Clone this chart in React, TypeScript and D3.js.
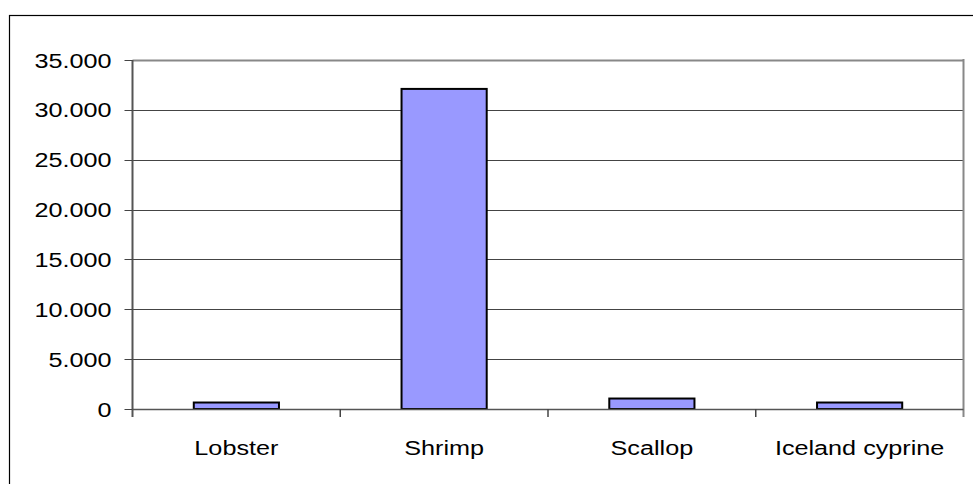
import React from "react";
import * as d3 from "d3";

const categories = ["Lobster", "Shrimp", "Scallop", "Iceland cyprine"];
const values = [650, 32100, 1050, 650];
const yTicks = [0, 5000, 10000, 15000, 20000, 25000, 30000, 35000];

const width = 973;
const height = 484;
const margin = { top: 60, right: 9.5, bottom: 75, left: 132.5 };

// labels in the original look stretched sideways a bit
const stretch = 1.2;

const locale = d3.formatLocale({
  decimal: ",",
  thousands: ".",
  grouping: [3],
  currency: ["", ""]
});
const fmt = locale.format(",d");

const App = () => {
  const x = d3
    .scaleBand<string>()
    .domain(categories)
    .range([margin.left, width - margin.right])
    .paddingInner(0.59)
    .paddingOuter(0.295);

  const y = d3
    .scaleLinear()
    .domain([0, 35000])
    .range([height - margin.bottom, margin.top]);

  const step = x.step();
  const bandStart = margin.left;
  const tickXs = categories.map((_, i) => bandStart + step * (i + 1));

  return (
    <svg
      width={width}
      height={height}
      style={{ position: "absolute", left: 0, top: 0, fontFamily: "Liberation Sans, Arial, sans-serif" }}
    >
      <rect x={0} y={0} width={width} height={height} fill="#fff" />
      <rect x={9.5} y={15.5} width={1000} height={1000} fill="none" stroke="#000" strokeWidth={1.2} />

      {/* gridlines */}
      {yTicks.map(t => (
        <line
          key={t}
          x1={margin.left}
          x2={width - margin.right}
          y1={Math.round(y(t)) + 0.5}
          y2={Math.round(y(t)) + 0.5}
          stroke={t === 35000 ? "#888" : "#444"}
          strokeWidth={t === 35000 ? 2 : 1}
        />
      ))}
      {/* right border of plot area */}
      <line
        x1={width - margin.right}
        x2={width - margin.right}
        y1={y(35000) - 1}
        y2={y(0) + 8}
        stroke="#888"
        strokeWidth={2}
      />

      {/* bars */}
      {categories.map((c, i) => (
        <rect
          key={c}
          x={x(c)}
          y={y(values[i])}
          width={x.bandwidth()}
          height={y(0) - y(values[i])}
          fill="#9999ff"
          stroke="#000"
          strokeWidth={2}
        />
      ))}

      {/* y axis */}
      <line
        x1={margin.left}
        x2={margin.left}
        y1={y(35000)}
        y2={y(0) + 8}
        stroke="#555"
        strokeWidth={2}
      />
      {yTicks.map(t => (
        <g key={t}>
          <line
            x1={margin.left - 8}
            x2={margin.left}
            y1={Math.round(y(t)) + 0.5}
            y2={Math.round(y(t)) + 0.5}
            stroke="#444"
          />
          <text
            transform={`translate(${margin.left - 21},${y(t) + 7.5}) scale(${stretch},1)`}
            textAnchor="end"
            fontSize={21}
            fill="#000"
          >
            {fmt(t)}
          </text>
        </g>
      ))}

      {/* x axis */}
      <line
        x1={margin.left}
        x2={width - margin.right}
        y1={y(0) + 0.5}
        y2={y(0) + 0.5}
        stroke="#555"
        strokeWidth={1.5}
      />
      {tickXs.slice(0, -1).map((tx, i) => (
        <line key={i} x1={tx} x2={tx} y1={y(0)} y2={y(0) + 8} stroke="#444" strokeWidth={1.5} />
      ))}
      {categories.map(c => (
        <text
          key={c}
          transform={`translate(${(x(c) as number) + x.bandwidth() / 2},${y(0) + 46}) scale(${stretch},1)`}
          textAnchor="middle"
          fontSize={21}
          fill="#000"
        >
          {c}
        </text>
      ))}
    </svg>
  );
};

export default App;
